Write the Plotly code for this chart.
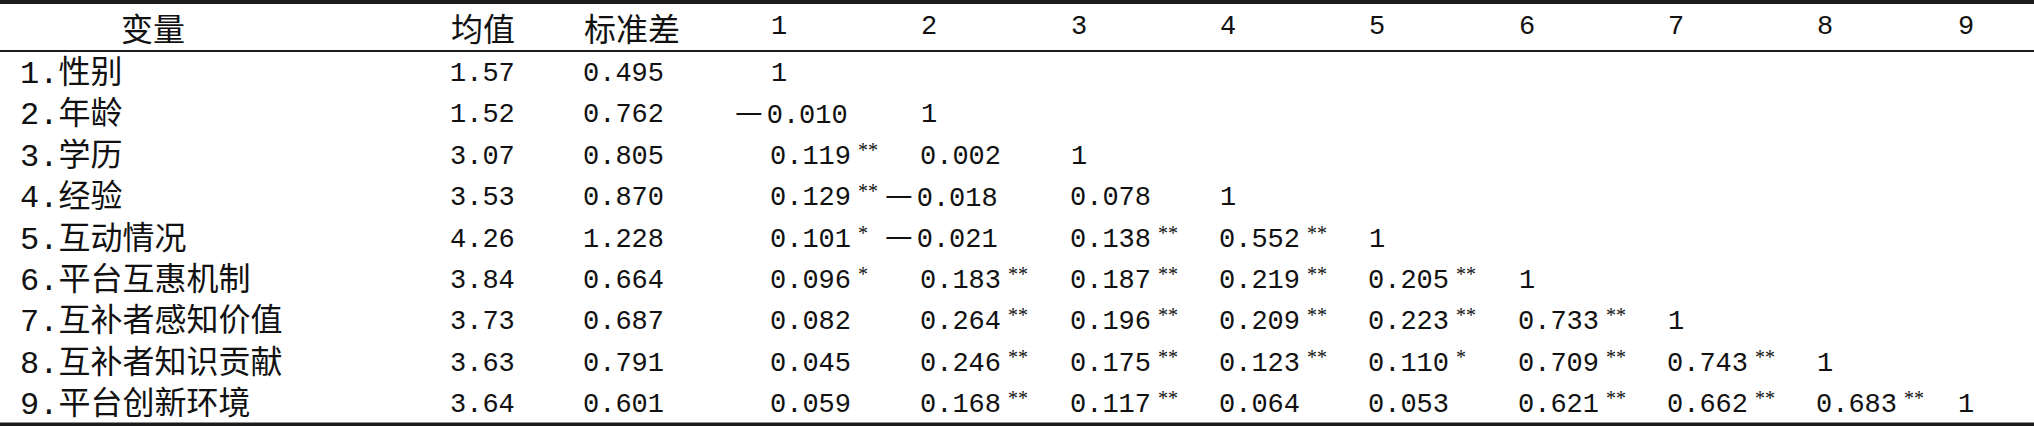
import plotly.graph_objects as go

# ---------------- data ----------------
header_labels = ["变量", "均值", "标准差"]
col_labels = ["1", "2", "3", "4", "5", "6", "7", "8", "9"]
variables = ["1.性别", "2.年龄", "3.学历", "4.经验", "5.互动情况",
             "6.平台互惠机制", "7.互补者感知价值", "8.互补者知识贡献", "9.平台创新环境"]
means = ["1.57", "1.52", "3.07", "3.53", "4.26", "3.84", "3.73", "3.63", "3.64"]
std_devs = ["0.495", "0.762", "0.805", "0.870", "1.228", "0.664", "0.687", "0.791", "0.601"]
corr_values = [
    [],
    [-0.010],
    [0.119, 0.002],
    [0.129, -0.018, 0.078],
    [0.101, -0.021, 0.138, 0.552],
    [0.096, 0.183, 0.187, 0.219, 0.205],
    [0.082, 0.264, 0.196, 0.209, 0.223, 0.733],
    [0.045, 0.246, 0.175, 0.123, 0.110, 0.709, 0.743],
    [0.059, 0.168, 0.117, 0.064, 0.053, 0.621, 0.662, 0.683],
]
corr_stars = [
    [],
    [""],
    ["**", ""],
    ["**", "", ""],
    ["*", "", "**", "**"],
    ["*", "**", "**", "**", "**"],
    ["", "**", "**", "**", "**", "**"],
    ["", "**", "**", "**", "*", "**", "**"],
    ["", "**", "**", "", "", "**", "**", "**"],
]
diagonal_value = "1"

# ---------------- layout constants ----------------
W, H = 2034, 426
NUM_FONT = "Liberation Mono"
CJK_FONT = "Noto Sans CJK SC"
LABEL_FONT = "Liberation Mono, Noto Sans CJK SC"
STAR_FONT = "Liberation Serif"
NUM_SIZE = 27
CJK_SIZE = 32
STAR_SIZE = 20
INK = "#111111"

label_x = 20
mean_x = 450
sd_x = 583
header_centers = [153, 483, 632]
col_centers = [779, 929, 1079, 1228, 1377, 1527, 1676, 1825, 1966]
header_y = 27
row_y0, row_dy = 74, 41.4
num_offset = -9     # digit start relative to column centre
star_gap = 7
star_dy = -7
neg_dy = -6

ann = []


def add(x, y, text, font, size, xanchor="left"):
    ann.append(dict(x=x, y=y, xref="x", yref="y", text=text, showarrow=False,
                    xanchor=xanchor, yanchor="middle", borderpad=0, borderwidth=0,
                    font=dict(family=font, size=size, color=INK)))


# header
for lab, cx in zip(header_labels, header_centers):
    add(cx, header_y, lab, CJK_FONT, CJK_SIZE, "center")
for lab, cx in zip(col_labels, col_centers):
    add(cx, header_y, lab, NUM_FONT, NUM_SIZE, "center")

# body
for i, var in enumerate(variables):
    y = row_y0 + row_dy * i
    add(label_x, y, var, LABEL_FONT, CJK_SIZE)
    add(mean_x, y, means[i], NUM_FONT, NUM_SIZE)
    add(sd_x, y, std_devs[i], NUM_FONT, NUM_SIZE)
    for j, v in enumerate(corr_values[i]):
        x0 = col_centers[j] + num_offset
        s = f"{abs(v):.3f}"
        if v < 0:
            txt = (f'<span style="font-family:{CJK_FONT};font-size:31px;letter-spacing:4px">—</span>{s}')
            add(x0 - 35, y + neg_dy, txt, NUM_FONT, NUM_SIZE)
        else:
            add(x0, y, s, NUM_FONT, NUM_SIZE)
        st = corr_stars[i][j]
        if st:
            add(x0 + len(s) * 0.6 * NUM_SIZE + star_gap, y + star_dy, st, STAR_FONT, STAR_SIZE)
    add(col_centers[i], y, diagonal_value, NUM_FONT, NUM_SIZE, "center")

shapes = [
    dict(type="rect", xref="x", yref="y", x0=0, x1=W, y0=0, y1=4, fillcolor="#1c1c1c", line_width=0),
    dict(type="line", xref="x", yref="y", x0=0, x1=W, y0=51, y1=51, line=dict(color="#1c1c1c", width=2)),
    dict(type="rect", xref="x", yref="y", x0=0, x1=W, y0=422.5, y1=426, fillcolor="#1c1c1c", line_width=0),
]

fig = go.Figure()
fig.update_layout(
    width=W, height=H, margin=dict(l=0, r=0, t=0, b=0),
    paper_bgcolor="white", plot_bgcolor="white",
    xaxis=dict(range=[0, W], visible=False, fixedrange=True),
    yaxis=dict(range=[H, 0], visible=False, fixedrange=True),
    annotations=ann, shapes=shapes, showlegend=False,
)
fig.write_html("out.html", config={"displayModeBar": False},
               post_script="document.body.style.margin='0';document.body.style.overflow='hidden';")
